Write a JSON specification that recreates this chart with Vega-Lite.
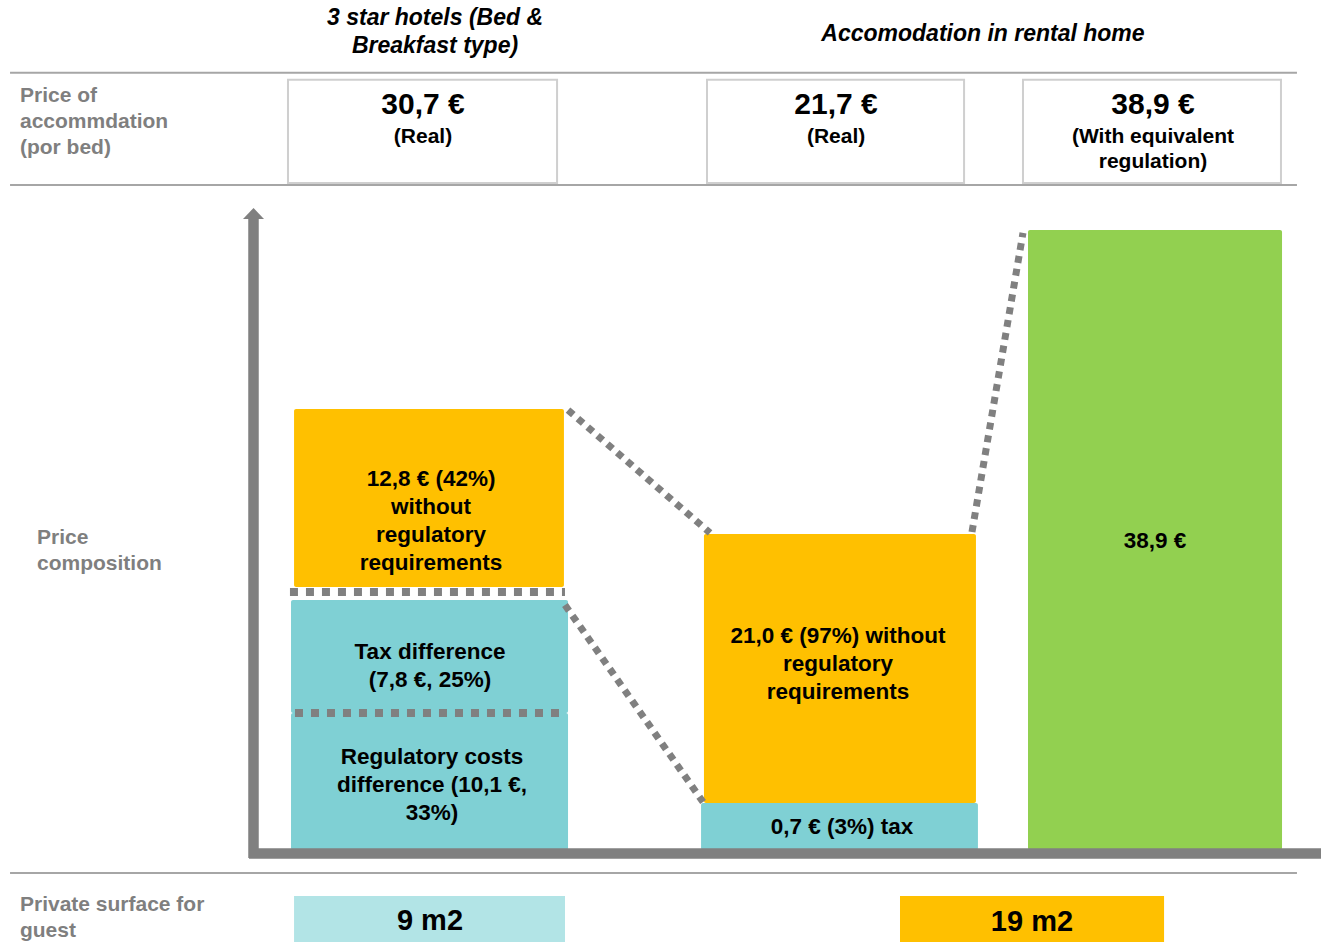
{
  "$schema": "https://vega.github.io/schema/vega-lite/v6.json",
  "width": 1321,
  "height": 942,
  "padding": 0,
  "autosize": {"type": "none"},
  "background": "white",
  "config": {"view": {"stroke": null}, "font": "Liberation Sans"},
  "datasets": {
    "separators": [
      {"x_from": 0.76, "x_to": 98.18, "level": 48.75},
      {"x_from": 0.76, "x_to": 98.18, "level": 41.72},
      {"x_from": 0.76, "x_to": 98.18, "level": -1.44}
    ],
    "priceBoxes": [
      {"option": "3 star hotel (real)", "x_from": 21.80, "x_to": 42.17, "top": 48.31, "bottom": 41.84},
      {"option": "Rental home (real)", "x_from": 53.52, "x_to": 72.98, "top": 48.31, "bottom": 41.84},
      {"option": "Rental home (with equivalent regulation)", "x_from": 77.44, "x_to": 96.97, "top": 48.31, "bottom": 41.84}
    ],
    "prices": [
      {"option": "3 star hotel (real)", "price": "30,7 €", "basis": "(Real)", "x": 32.02, "price_at": 46.74, "basis_at": 44.73},
      {"option": "Rental home (real)", "price": "21,7 €", "basis": "(Real)", "x": 63.29, "price_at": 46.74, "basis_at": 44.73},
      {"option": "Rental home (with equivalent regulation)", "price": "38,9 €", "basis": "(With equivalent\nregulation)", "x": 87.28, "price_at": 46.74, "basis_at": 44.73}
    ],
    "bars": [
      {"option": "3 star hotel", "component": "Regulatory costs difference", "start": 0, "end": 8.59, "x_from": 22.03, "x_to": 43.00},
      {"option": "3 star hotel", "component": "Tax difference", "start": 8.59, "end": 15.68, "x_from": 22.03, "x_to": 43.00},
      {"option": "3 star hotel", "component": "Without regulatory requirements", "start": 16.5, "end": 27.67, "x_from": 22.26, "x_to": 42.69},
      {"option": "Rental home (real)", "component": "Tax", "start": 0, "end": 2.95, "x_from": 53.07, "x_to": 74.03},
      {"option": "Rental home (real)", "component": "Without regulatory requirements", "start": 2.95, "end": 19.82, "x_from": 53.29, "x_to": 73.88},
      {"option": "Rental home (equivalent regulation)", "component": "With equivalent regulation", "start": 0, "end": 38.9, "x_from": 77.82, "x_to": 97.05}
    ],
    "barLabels": [
      {"label": "12,8 € (42%)\nwithout\nregulatory\nrequirements", "x": 32.63, "y": 23.27},
      {"label": "Tax difference\n(7,8 €, 25%)", "x": 32.55, "y": 12.42},
      {"label": "Regulatory costs\ndifference  (10,1 €,\n33%)", "x": 32.7, "y": 5.83},
      {"label": "21,0 € (97%)  without\nregulatory\nrequirements", "x": 63.44, "y": 13.43},
      {"label": "0,7 € (3%) tax", "x": 63.74, "y": 1.44},
      {"label": "38,9 €", "x": 87.43, "y": 19.39}
    ],
    "axes": [
      {"part": "value axis", "x_from": 19.19, "x_to": 19.19, "y_from": -0.5, "y_to": 39.59},
      {"part": "category axis", "x_from": 18.85, "x_to": 100, "y_from": -0.22, "y_to": -0.22}
    ],
    "arrowhead": [{"part": "value axis", "x": 19.19, "y": 39.93}],
    "dividers": [
      {"x_from": 21.95, "x_to": 42.77, "level": 16.19},
      {"x_from": 22.33, "x_to": 42.62, "level": 8.59}
    ],
    "connectors": [
      {"x_from": 43.0, "y_from": 27.6, "x_to": 53.75, "y_to": 19.89},
      {"x_from": 42.77, "y_from": 15.37, "x_to": 53.22, "y_to": 3.01},
      {"x_from": 73.58, "y_from": 19.95, "x_to": 77.44, "y_to": 38.71}
    ],
    "surface": [
      {"option": "3 star hotel", "area": "9 m2", "x_from": 22.26, "x_to": 42.77, "top": -2.89, "bottom": -5.77, "x": 32.55, "y": -4.45},
      {"option": "Rental home", "area": "19 m2", "x_from": 68.13, "x_to": 88.12, "top": -2.89, "bottom": -5.77, "x": 78.12, "y": -4.52}
    ],
    "columnTitles": [
      {"title": "3 star hotels (Bed &\nBreakfast type)", "x": 32.93, "y": 52.2},
      {"title": "Accomodation  in rental home", "x": 74.41, "y": 51.19}
    ],
    "rowLabels": [
      {"label": "Price of\naccommdation\n(por bed)", "x": 1.51, "y": 47.3},
      {"label": "Price\ncomposition", "x": 2.80, "y": 19.57},
      {"label": "Private surface for\nguest", "x": 1.51, "y": -3.45}
    ]
  },
  "layer": [
    {
      "data": {"name": "separators"},
      "mark": {"type": "rule", "stroke": "#A6A6A6", "strokeWidth": 2},
      "encoding": {
        "x": {"field": "x_from", "type": "quantitative", "scale": {"domain": [0, 100], "nice": false, "zero": false}, "axis": null},
        "x2": {"field": "x_to"},
        "y": {"field": "level", "type": "quantitative", "scale": {"domain": [-5.77, 53.32], "nice": false, "zero": false}, "axis": null}
      }
    },
    {
      "data": {"name": "priceBoxes"},
      "mark": {"type": "rect", "fill": "white", "stroke": "#CFCFCF", "strokeWidth": 2},
      "encoding": {
        "x": {"field": "x_from", "type": "quantitative", "scale": {"domain": [0, 100], "nice": false, "zero": false}, "axis": null},
        "x2": {"field": "x_to"},
        "y": {"field": "top", "type": "quantitative", "scale": {"domain": [-5.77, 53.32], "nice": false, "zero": false}, "axis": null},
        "y2": {"field": "bottom"}
      }
    },
    {
      "data": {"name": "bars"},
      "mark": {"type": "rect", "cornerRadius": 2},
      "encoding": {
        "x": {"field": "x_from", "type": "quantitative", "scale": {"domain": [0, 100], "nice": false, "zero": false}, "axis": null},
        "x2": {"field": "x_to"},
        "y": {"field": "end", "type": "quantitative", "scale": {"domain": [-5.77, 53.32], "nice": false, "zero": false}, "axis": null},
        "y2": {"field": "start"},
        "color": {
          "field": "component", "type": "nominal", "legend": null,
          "scale": {
            "domain": ["Without regulatory requirements", "Tax difference", "Regulatory costs difference", "Tax", "With equivalent regulation"],
            "range": ["#FFC000", "#7FD0D4", "#7FD0D4", "#7FD0D4", "#92D050"]
          }
        }
      }
    },
    {
      "data": {"name": "surface"},
      "mark": {"type": "rect"},
      "encoding": {
        "x": {"field": "x_from", "type": "quantitative", "scale": {"domain": [0, 100], "nice": false, "zero": false}, "axis": null},
        "x2": {"field": "x_to"},
        "y": {"field": "top", "type": "quantitative", "scale": {"domain": [-5.77, 53.32], "nice": false, "zero": false}, "axis": null},
        "y2": {"field": "bottom"},
        "fill": {
          "field": "option", "type": "nominal", "legend": null,
          "scale": {"domain": ["3 star hotel", "Rental home"], "range": ["#B2E4E6", "#FFC000"]}
        }
      }
    },
    {
      "data": {"name": "axes"},
      "mark": {"type": "rule", "stroke": "#808080", "strokeWidth": 10.5, "strokeCap": "butt"},
      "encoding": {
        "x": {"field": "x_from", "type": "quantitative", "scale": {"domain": [0, 100], "nice": false, "zero": false}, "axis": null},
        "x2": {"field": "x_to"},
        "y": {"field": "y_from", "type": "quantitative", "scale": {"domain": [-5.77, 53.32], "nice": false, "zero": false}, "axis": null},
        "y2": {"field": "y_to"}
      }
    },
    {
      "data": {"name": "arrowhead"},
      "mark": {"type": "point", "shape": "M0,-0.52L1,0.52L-1,0.52Z", "size": 441, "filled": true, "color": "#808080", "opacity": 1},
      "encoding": {
        "x": {"field": "x", "type": "quantitative", "scale": {"domain": [0, 100], "nice": false, "zero": false}, "axis": null},
        "y": {"field": "y", "type": "quantitative", "scale": {"domain": [-5.77, 53.32], "nice": false, "zero": false}, "axis": null}
      }
    },
    {
      "data": {"name": "dividers"},
      "mark": {"type": "rule", "stroke": "#808080", "strokeWidth": 8, "strokeDash": [8, 8], "strokeCap": "butt"},
      "encoding": {
        "x": {"field": "x_from", "type": "quantitative", "scale": {"domain": [0, 100], "nice": false, "zero": false}, "axis": null},
        "x2": {"field": "x_to"},
        "y": {"field": "level", "type": "quantitative", "scale": {"domain": [-5.77, 53.32], "nice": false, "zero": false}, "axis": null}
      }
    },
    {
      "data": {"name": "connectors"},
      "mark": {"type": "rule", "stroke": "#808080", "strokeWidth": 7, "strokeDash": [7, 6], "strokeCap": "butt"},
      "encoding": {
        "x": {"field": "x_from", "type": "quantitative", "scale": {"domain": [0, 100], "nice": false, "zero": false}, "axis": null},
        "x2": {"field": "x_to"},
        "y": {"field": "y_from", "type": "quantitative", "scale": {"domain": [-5.77, 53.32], "nice": false, "zero": false}, "axis": null},
        "y2": {"field": "y_to"}
      }
    },
    {
      "data": {"name": "columnTitles"},
      "mark": {"type": "text", "font": "Liberation Sans", "fontSize": 23, "fontWeight": "bold", "fontStyle": "italic", "color": "#000000", "align": "center", "baseline": "middle", "lineBreak": "\n", "lineHeight": 28},
      "encoding": {
        "x": {"field": "x", "type": "quantitative", "scale": {"domain": [0, 100], "nice": false, "zero": false}, "axis": null},
        "y": {"field": "y", "type": "quantitative", "scale": {"domain": [-5.77, 53.32], "nice": false, "zero": false}, "axis": null},
        "text": {"field": "title", "type": "nominal"}
      }
    },
    {
      "data": {"name": "rowLabels"},
      "mark": {"type": "text", "font": "Liberation Sans", "fontSize": 21, "fontWeight": "bold", "color": "#7F7F7F", "align": "left", "baseline": "middle", "lineBreak": "\n", "lineHeight": 26},
      "encoding": {
        "x": {"field": "x", "type": "quantitative", "scale": {"domain": [0, 100], "nice": false, "zero": false}, "axis": null},
        "y": {"field": "y", "type": "quantitative", "scale": {"domain": [-5.77, 53.32], "nice": false, "zero": false}, "axis": null},
        "text": {"field": "label", "type": "nominal"}
      }
    },
    {
      "data": {"name": "prices"},
      "mark": {"type": "text", "font": "Liberation Sans", "fontSize": 30, "fontWeight": "bold", "color": "#000000", "align": "center", "baseline": "middle"},
      "encoding": {
        "x": {"field": "x", "type": "quantitative", "scale": {"domain": [0, 100], "nice": false, "zero": false}, "axis": null},
        "y": {"field": "price_at", "type": "quantitative", "scale": {"domain": [-5.77, 53.32], "nice": false, "zero": false}, "axis": null},
        "text": {"field": "price", "type": "nominal"}
      }
    },
    {
      "data": {"name": "prices"},
      "mark": {"type": "text", "font": "Liberation Sans", "fontSize": 21, "fontWeight": "bold", "color": "#000000", "align": "center", "baseline": "middle", "lineBreak": "\n", "lineHeight": 25},
      "encoding": {
        "x": {"field": "x", "type": "quantitative", "scale": {"domain": [0, 100], "nice": false, "zero": false}, "axis": null},
        "y": {"field": "basis_at", "type": "quantitative", "scale": {"domain": [-5.77, 53.32], "nice": false, "zero": false}, "axis": null},
        "text": {"field": "basis", "type": "nominal"}
      }
    },
    {
      "data": {"name": "barLabels"},
      "mark": {"type": "text", "font": "Liberation Sans", "fontSize": 22.5, "fontWeight": "bold", "color": "#000000", "align": "center", "baseline": "middle", "lineBreak": "\n", "lineHeight": 28},
      "encoding": {
        "x": {"field": "x", "type": "quantitative", "scale": {"domain": [0, 100], "nice": false, "zero": false}, "axis": null},
        "y": {"field": "y", "type": "quantitative", "scale": {"domain": [-5.77, 53.32], "nice": false, "zero": false}, "axis": null},
        "text": {"field": "label", "type": "nominal"}
      }
    },
    {
      "data": {"name": "surface"},
      "mark": {"type": "text", "font": "Liberation Sans", "fontSize": 29, "fontWeight": "bold", "color": "#000000", "align": "center", "baseline": "middle"},
      "encoding": {
        "x": {"field": "x", "type": "quantitative", "scale": {"domain": [0, 100], "nice": false, "zero": false}, "axis": null},
        "y": {"field": "y", "type": "quantitative", "scale": {"domain": [-5.77, 53.32], "nice": false, "zero": false}, "axis": null},
        "text": {"field": "area", "type": "nominal"}
      }
    }
  ]
}
